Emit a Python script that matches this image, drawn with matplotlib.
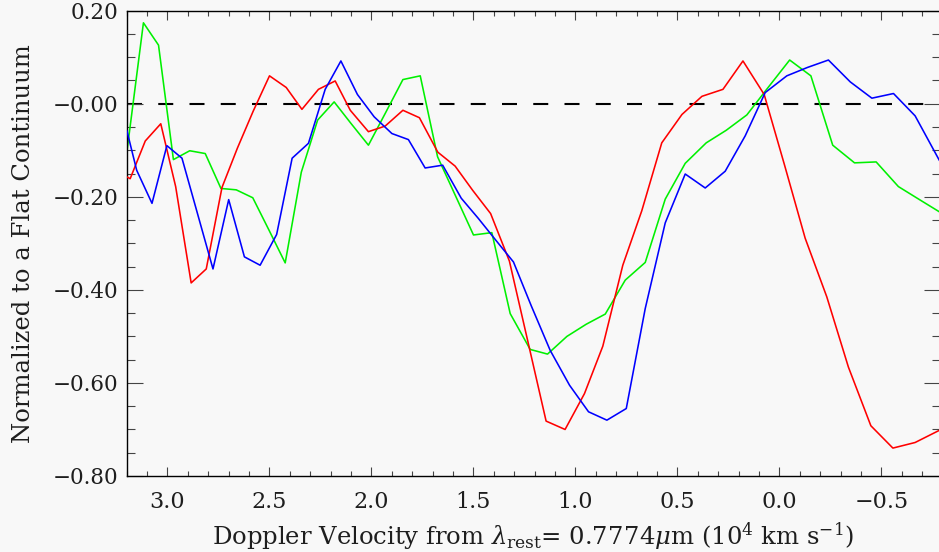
"""
O I 7774 line profiles in velocity space, three spectra normalized to a flat continuum.
"""
import numpy as np
import matplotlib
matplotlib.use("Agg")
import matplotlib.pyplot as plt
from matplotlib.ticker import MultipleLocator, FixedLocator

# velocity (10^4 km/s) and normalized flux for each spectrum
vel_red = [3.200, 3.183, 3.109, 3.033, 2.960, 2.884, 2.810, 2.733, 2.657, 2.580,
           2.500, 2.418, 2.341, 2.260, 2.178, 2.104, 2.015, 1.933, 1.846, 1.765,
           1.675, 1.590, 1.504, 1.416, 1.324, 1.237, 1.144, 1.051, 0.956, 0.866,
           0.768, 0.675, 0.577, 0.478, 0.380, 0.277, 0.179, 0.075, -0.025, -0.126,
           -0.232, -0.338, -0.448, -0.556, -0.665, -0.783]
flux_red = [-0.157, -0.161, -0.080, -0.043, -0.178, -0.385, -0.355, -0.180, -0.095, -0.016,
            0.060, 0.035, -0.012, 0.031, 0.049, -0.014, -0.060, -0.048, -0.014, -0.030,
            -0.104, -0.134, -0.186, -0.236, -0.338, -0.504, -0.682, -0.700, -0.623, -0.521,
            -0.347, -0.230, -0.084, -0.023, 0.016, 0.031, 0.092, 0.020, -0.132, -0.289,
            -0.415, -0.566, -0.692, -0.740, -0.728, -0.702]

vel_blue = [3.199, 3.151, 3.076, 3.003, 2.929, 2.853, 2.777, 2.700, 2.623, 2.546,
            2.465, 2.389, 2.309, 2.227, 2.150, 2.069, 1.987, 1.900, 1.819, 1.737,
            1.651, 1.560, 1.477, 1.391, 1.304, 1.217, 1.124, 1.029, 0.936, 0.846,
            0.751, 0.658, 0.560, 0.462, 0.364, 0.266, 0.168, 0.070, -0.036, -0.137,
            -0.240, -0.347, -0.453, -0.559, -0.665, -0.783]
flux_blue = [-0.058, -0.143, -0.214, -0.090, -0.117, -0.236, -0.355, -0.206, -0.329, -0.347,
             -0.281, -0.117, -0.085, 0.031, 0.092, 0.020, -0.028, -0.064, -0.077, -0.138,
             -0.132, -0.203, -0.246, -0.293, -0.340, -0.434, -0.530, -0.605, -0.662, -0.680,
             -0.655, -0.440, -0.256, -0.151, -0.181, -0.145, -0.069, 0.024, 0.060, 0.078,
             0.094, 0.047, 0.012, 0.022, -0.026, -0.121]

vel_green = [3.199, 3.118, 3.044, 2.971, 2.891, 2.815, 2.738, 2.663, 2.582, 2.502,
             2.423, 2.344, 2.264, 2.183, 2.101, 2.015, 1.933, 1.846, 1.761, 1.676,
             1.590, 1.500, 1.410, 1.320, 1.222, 1.137, 1.042, 0.948, 0.854, 0.756,
             0.658, 0.560, 0.462, 0.359, 0.261, 0.160, 0.061, -0.050, -0.154, -0.261,
             -0.368, -0.474, -0.583, -0.690, -0.783]
flux_green = [-0.103, 0.174, 0.126, -0.120, -0.101, -0.107, -0.182, -0.185, -0.202, -0.272,
              -0.342, -0.147, -0.035, 0.004, -0.042, -0.089, -0.021, 0.052, 0.060, -0.114,
              -0.196, -0.282, -0.277, -0.451, -0.528, -0.538, -0.500, -0.474, -0.452, -0.379,
              -0.341, -0.205, -0.128, -0.084, -0.057, -0.024, 0.032, 0.094, 0.060, -0.089,
              -0.127, -0.125, -0.178, -0.207, -0.232]

xticks = [3.0, 2.5, 2.0, 1.5, 1.0, 0.5, 0.0, -0.5]
xtick_labels = ["3.0", "2.5", "2.0", "1.5", "1.0", "0.5", "0.0", "\u22120.5"]
yticks = [0.2, 0.0, -0.2, -0.4, -0.6, -0.8]
ytick_labels = ["0.20", "\u22120.00", "\u22120.20", "\u22120.40", "\u22120.60", "\u22120.80"]

bg = "#f8f8f8"
ink = "#1e1e1e"
plt.rcParams["font.family"] = "DejaVu Serif"
plt.rcParams["mathtext.fontset"] = "dejavuserif"

fig = plt.figure(figsize=(9.39, 5.52), dpi=100, facecolor=bg)
ax = fig.add_axes([126.7 / 939, 76 / 552, (939.6 - 126.7) / 939, (476 - 10.7) / 552])
ax.set_facecolor(bg)

# zero level
ax.axhline(0.0, color="black", lw=1.5, ls=(0, (7.2, 7.8)), zorder=1)
ax.plot(vel_red, flux_red, color="#ff0000", lw=1.15, zorder=3)
ax.plot(vel_green, flux_green, color="#00f000", lw=1.15, zorder=2)
ax.plot(vel_blue, flux_blue, color="#0000ff", lw=1.15, zorder=4)

ax.set_xlim(3.2, -0.785)
ax.set_ylim(-0.8, 0.2)

ax.xaxis.set_major_locator(FixedLocator(xticks))
ax.set_xticklabels(xtick_labels)
ax.xaxis.set_minor_locator(MultipleLocator(0.1))
ax.yaxis.set_major_locator(FixedLocator(yticks))
ax.set_yticklabels(ytick_labels)
ax.yaxis.set_minor_locator(MultipleLocator(0.05))

ax.tick_params(axis="both", which="both", direction="in", top=True, right=True,
               color="#444444", width=0.8, labelcolor=ink)
ax.tick_params(axis="x", which="major", length=6.7, pad=11, labelsize=16)
ax.tick_params(axis="x", which="minor", length=3.6)
ax.tick_params(axis="y", which="major", length=11.5, pad=6, labelsize=15.5)
ax.tick_params(axis="y", which="minor", length=5.8)
for s in ax.spines.values():
    s.set_color("black")
    s.set_linewidth(1.0)

ax.set_xlabel(r"Doppler Velocity from $\lambda_{\rm rest}$= 0.7774$\mu$m (10$^4$ km s$^{-1}$)",
              fontsize=17.5, color=ink)
ax.xaxis.set_label_coords(0.5, -(521 - 476) / (476 - 10.7))
ax.set_ylabel("Normalized to a Flat Continuum", fontsize=17.5, color=ink)
ax.yaxis.set_label_coords(-(126.7 - 35) / (939.6 - 126.7), 0.5)

fig.savefig("out.png", dpi=100, facecolor=bg)
